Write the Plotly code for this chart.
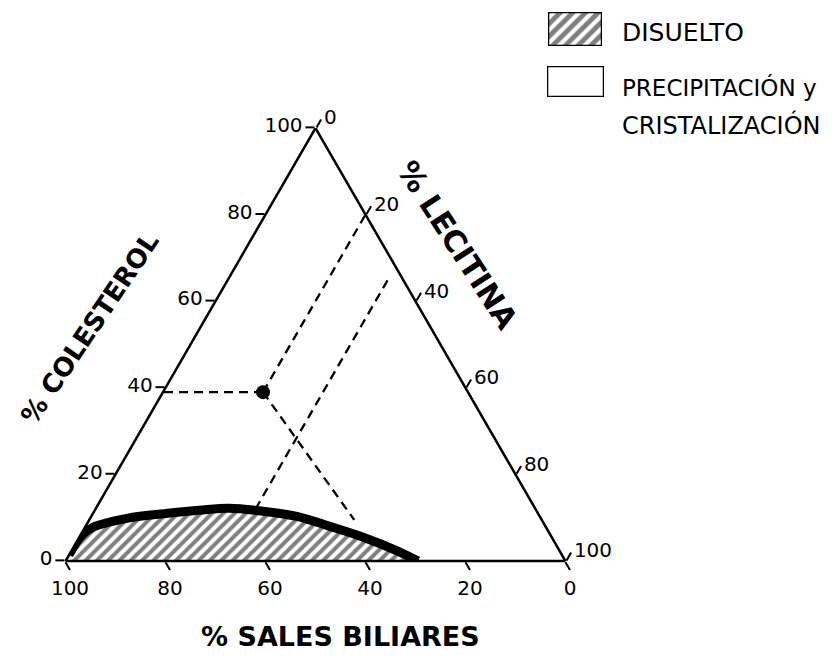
import math
import plotly.graph_objects as go

# ---------------- data ----------------
tick_vals = [0, 20, 40, 60, 80, 100]

# solubility boundary (thick curve): % colesterol (a) and % lecitina (c)
curve_col = [1.4, 6.0, 7.8, 9.9, 10.8, 11.7, 12.2, 11.5, 10.3, 8.0, 5.5, 2.3, 0.0]
curve_lec = [0.0, 0.3, 1.6, 7.6, 13.2, 20.8, 26.6, 33.7, 41.1, 48.9, 56.8, 65.3, 70.5]

# example bile composition
point_col = [39]
point_lec = [20]

# dashed guide lines (colesterol, lecitina)
guide_left_col = [39, 39]
guide_left_lec = [20, 0]
guide_right_col = [39, 80]
guide_right_lec = [20, 20]
guide_down_col = [39, 9.5]
guide_down_lec = [20, 53]
guide_curve_col = [12, 66]
guide_curve_lec = [32, 32]

legend_labels = ["DISUELTO", "PRECIPITACIÓN y", "CRISTALIZACIÓN"]


def sales(col, lec):
    return [100 - a - c for a, c in zip(col, lec)]


SQ3 = math.sqrt(3) / 2


def to_xy(col, lec):
    """ternary -> cartesian coords of the same equilateral triangle (side 100)"""
    return [c + a / 2 for a, c in zip(col, lec)], [a * SQ3 for a in col]


W, H = 835, 664
OFF = 8  # page body margin


def px(x):
    return (x - OFF) / W


def py(y):
    return 1 - (y - OFF) / H


FONT = "DejaVu Sans"
TRI_X = [px(65.5), px(565.5)]
TRI_Y = [py(561), py(128)]

fig = go.Figure()

# hatched (dissolved) region drawn on a cartesian overlay aligned with the triangle
fill_col = curve_col + [0.0]
fill_lec = curve_lec + [0.0]
fx, fy = to_xy(fill_col, fill_lec)
fig.add_trace(go.Scatter(
    x=fx, y=fy, xaxis="x3", yaxis="y3",
    mode="lines", line=dict(width=0, shape="spline", color="black"),
    fill="toself", fillcolor="white",
    fillpattern=dict(shape="/", size=8, solidity=0.5, fgcolor="black", bgcolor="white"),
    hoverinfo="skip", showlegend=False,
))

# dashed guides
for ca, cc in [(guide_left_col, guide_left_lec), (guide_right_col, guide_right_lec),
               (guide_down_col, guide_down_lec), (guide_curve_col, guide_curve_lec)]:
    fig.add_trace(go.Scatterternary(
        a=ca, b=sales(ca, cc), c=cc, mode="lines",
        line=dict(color="black", width=2.3, dash="9px,6px"),
        hoverinfo="skip", showlegend=False,
    ))

# thick boundary curve
fig.add_trace(go.Scatterternary(
    a=curve_col, b=sales(curve_col, curve_lec), c=curve_lec,
    mode="lines", line=dict(color="black", width=9, shape="spline"),
    hoverinfo="skip", showlegend=False,
))

# point
fig.add_trace(go.Scatterternary(
    a=point_col, b=sales(point_col, point_lec), c=point_lec,
    mode="markers", marker=dict(color="black", size=14),
    hoverinfo="skip", showlegend=False,
))

# legend swatches in small hidden cartesian areas
swatch_x = [0, 1, 1, 0, 0]
swatch_y = [0, 0, 1, 1, 0]
fig.add_trace(go.Scatter(
    x=swatch_x, y=swatch_y, xaxis="x", yaxis="y", mode="lines",
    line=dict(color="black", width=2.5), fill="toself", fillcolor="white",
    fillpattern=dict(shape="/", size=9, solidity=0.55, fgcolor="black", bgcolor="white"),
    hoverinfo="skip", showlegend=False,
))
fig.add_trace(go.Scatter(
    x=swatch_x, y=swatch_y, xaxis="x2", yaxis="y2", mode="lines",
    line=dict(color="black", width=2.5),
    hoverinfo="skip", showlegend=False,
))

axis_common = dict(
    showgrid=False, linecolor="black", linewidth=2.5,
    ticks="outside", ticklen=9, tickwidth=2, tickcolor="black",
    tickvals=tick_vals, ticktext=[str(v) for v in tick_vals],
    tickfont=dict(family=FONT, size=20, color="black"),
    title=dict(text=""), min=0,
)

hidden = dict(visible=False, fixedrange=True, showgrid=False, zeroline=False)


def label(text, x, y, size, angle=0, xanchor="center"):
    return dict(text=text, x=px(x), y=py(y), xref="paper", yref="paper",
                xanchor=xanchor, yanchor="middle", showarrow=False, textangle=angle,
                font=dict(family=FONT, size=size, color="black"))


fig.update_layout(
    width=W, height=H,
    margin=dict(l=0, r=0, t=0, b=0),
    paper_bgcolor="white", plot_bgcolor="rgba(0,0,0,0)",
    showlegend=False,
    ternary=dict(
        sum=100,
        bgcolor="rgba(0,0,0,0)",
        domain=dict(x=TRI_X, y=TRI_Y),
        aaxis=axis_common,
        baxis=axis_common,
        caxis=axis_common,
    ),
    xaxis=dict(domain=[px(548), px(602)], range=[0, 1], anchor="y", **hidden),
    yaxis=dict(domain=[py(46), py(12)], range=[0, 1], anchor="x", **hidden),
    xaxis2=dict(domain=[px(547), px(604)], range=[0, 1], anchor="y2", **hidden),
    yaxis2=dict(domain=[py(97), py(66)], range=[0, 1], anchor="x2", **hidden),
    xaxis3=dict(domain=TRI_X, range=[0, 100], anchor="y3", **hidden),
    yaxis3=dict(domain=TRI_Y, range=[0, 100 * SQ3], anchor="x3", **hidden),
    annotations=[
        label("<b>% COLESTEROL</b>", 90, 328, 26, angle=-56),
        label("<b>% LECITINA</b>", 458, 245, 30, angle=57),
        label("<b>% SALES BILIARES</b>", 340, 636, 27),
        label(legend_labels[0], 620, 32, 25, xanchor="left"),
        label(legend_labels[1], 620, 87, 23, xanchor="left"),
        label(legend_labels[2], 620, 125, 24, xanchor="left"),
    ],
)

fig.write_html("out.html")
